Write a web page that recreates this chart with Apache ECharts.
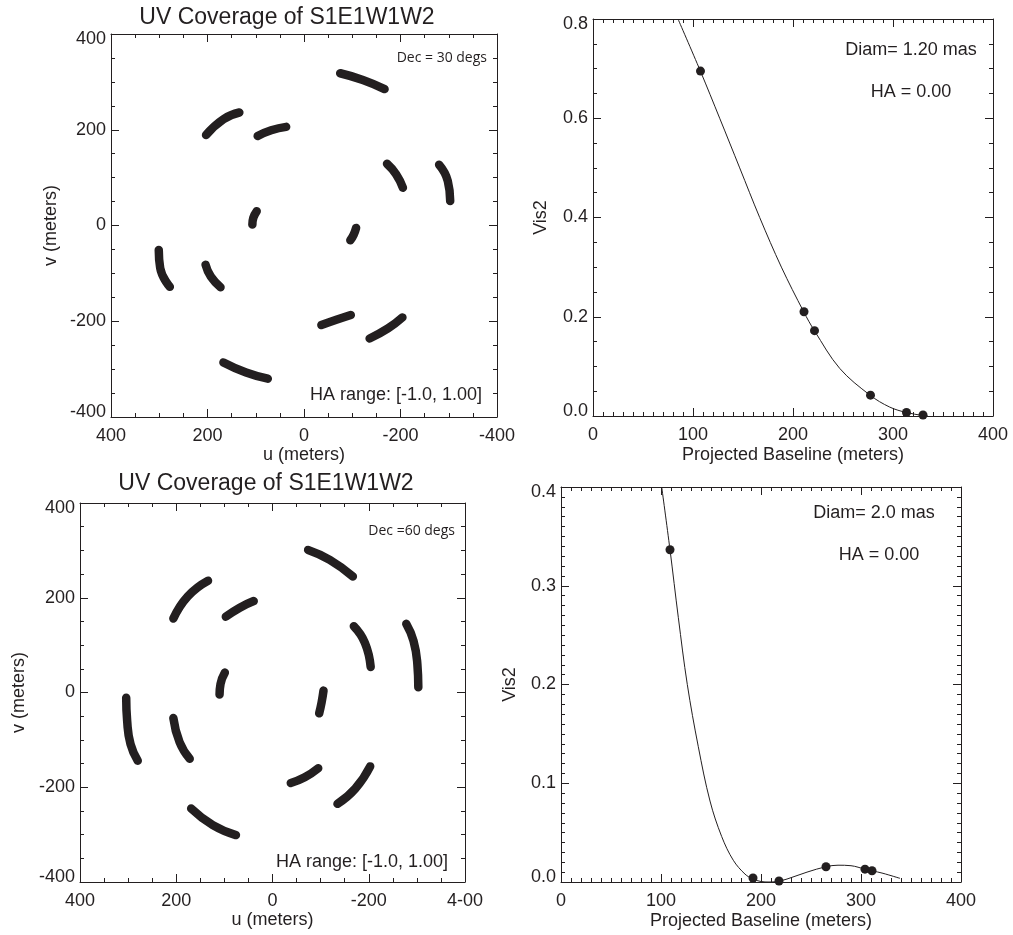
<!DOCTYPE html>
<html>
<head>
<meta charset="utf-8">
<script src="https://cdn.jsdelivr.net/npm/echarts@6/dist/echarts.min.js"></script>
<style>
html,body{margin:0;padding:0;background:#ffffff;}
#chart{width:1013px;height:935px;}
</style>
</head>
<body>
<div id="chart"></div>
<script>
// ---------------- data ----------------
const uvTickValues = [400, 200, 0, -200, -400];
const uvTickLabelsTop = ['400', '200', '0', '-200', '-400'];
const uvTickLabelsBottom = ['400', '200', '0', '-200', '4-00'];

// UV tracks, Dec = 30 degs : each track is a list of [u, v] (meters)
const dec30Tracks = [
  [[-75, 318], [-122, 304], [-167, 285]],
  [[167, -286], [120, -307], [75, -320]],
  [[203, 189], [167, 222], [134, 236]],
  [[-136, -236], [-174, -215], [-204, -192]],
  [[96, 187], [68, 199], [37, 206]],
  [[-36, -208], [-67, -197], [-97, -187]],
  [[-172, 129], [-191, 107], [-205, 79]],
  [[204, -82], [193, -107], [173, -129]],
  [[-280, 127], [-298, 93], [-303, 51]],
  [[301, -51], [298, -89], [278, -128]],
  [[98, 30], [105, 16], [107, 2]],
  [[-108, -5], [-103, -19], [-96, -31]]
];

// UV tracks, Dec = 60 degs
const dec60Tracks = [
  [[-74, 301], [-119, 280], [-167, 245]],
  [[169, -245], [124, -280], [76, -301]],
  [[206, 156], [176, 203], [134, 236]],
  [[-135, -235], [-172, -203], [-203, -156]],
  [[97, 160], [68, 179], [39, 193]],
  [[-38, -191], [-67, -179], [-95, -160]],
  [[-169, 140], [-192, 105], [-204, 54]],
  [[206, -54], [193, -105], [172, -140]],
  [[-278, 145], [-293, 109], [-301, 60], [-303, 11]],
  [[304, -11], [302, -60], [295, -109], [280, -144]],
  [[99, 42], [108, 18], [110, -4]],
  [[-106, 4], [-102, -21], [-97, -44]]
];

// Vis2 vs projected baseline, Diam = 1.20 mas
const vis120CurveB = [85, 107.4, 126.7, 146.7, 166.7, 188.4, 210.7, 221.4, 246.7, 277, 296.7, 313.4, 330, 335];
const vis120CurveV = [0.80, 0.695, 0.600, 0.500, 0.400, 0.300, 0.210, 0.172, 0.096, 0.042, 0.018, 0.007, 0.001, 0.0];
const vis120PointB = [107.5, 211, 221.5, 277.5, 313.5, 330];
const vis120PointV = [0.695, 0.210, 0.172, 0.042, 0.007, 0.002];

// Vis2 vs projected baseline, Diam = 2.0 mas
const vis200CurveB = [100.7, 109, 117.3, 126.3, 137.3, 149, 160.7, 172.3, 184, 192, 200, 208, 216, 226, 246, 265, 277, 290, 304, 311, 322, 339];
const vis200CurveV = [0.400, 0.3365, 0.268, 0.200, 0.137, 0.082, 0.046, 0.022, 0.008, 0.003, 0.0005, 0.0, 0.0005, 0.003, 0.010, 0.0155, 0.017, 0.0165, 0.013, 0.0114, 0.0088, 0.0037];
const vis200PointB = [109, 192, 218, 265, 304, 311];
const vis200PointV = [0.3365, 0.004, 0.001, 0.0155, 0.013, 0.0114];

// ---------------- styling helpers ----------------
const INK = '#231f20';
const FONT = '"Liberation Sans", Arial, Helvetica, sans-serif';

function zip(a, b) { return a.map((x, i) => [x, b[i]]); }

function richStyles() {
  return {
    n: { fontSize: 18, fontFamily: FONT, color: INK },
    t: { fontSize: 18, fontFamily: FONT, color: INK, padding: [11, 0, 0, 0] },
    b: { fontSize: 18, fontFamily: FONT, color: INK, padding: [0, 0, 9, 0] }
  };
}

function axis(o) {
  const a = {
    type: 'value',
    gridIndex: o.grid,
    position: o.position,
    min: o.min, max: o.max, interval: o.interval,
    inverse: !!o.inverse,
    axisLine: { show: true, onZero: false, lineStyle: { color: INK, width: 1 } },
    axisTick: { show: true, inside: true, length: 8, lineStyle: { color: INK, width: 1 } },
    minorTick: { show: true, splitNumber: o.minor, length: 4, lineStyle: { color: INK, width: 1 } },
    splitLine: { show: false },
    minorSplitLine: { show: false },
    axisLabel: { show: false },
    name: '',
    nameMoveOverlap: false
  };
  if (o.formatter) {
    a.axisLabel = {
      show: true, margin: o.margin, formatter: o.formatter,
      fontSize: 18, fontFamily: FONT, color: INK,
      showMinLabel: true, showMaxLabel: true,
      rich: richStyles()
    };
  }
  if (o.name) {
    a.name = o.name;
    a.nameLocation = 'middle';
    a.nameGap = o.nameGap;
    a.nameTextStyle = { fontSize: 18, fontFamily: FONT, color: INK };
  }
  return a;
}

function uvXFormatter(labels) {
  return function (v) {
    const i = uvTickValues.indexOf(v);
    return i >= 0 ? labels[i] : '';
  };
}
function edgeYFormatter(min, max, digits) {
  return function (v) {
    const s = digits ? v.toFixed(digits) : String(Math.round(v));
    if (Math.abs(v - max) < 1e-9) return '{t|' + s + '}';
    if (Math.abs(v - min) < 1e-9) return '{b|' + s + '}';
    return '{n|' + s + '}';
  };
}

// ---------------- axes ----------------
const xAxes = [
  axis({ grid: 0, position: 'bottom', min: -400, max: 400, interval: 200, minor: 4, inverse: true, margin: 10,
         formatter: uvXFormatter(uvTickLabelsTop), name: 'u (meters)', nameGap: 29 }),
  axis({ grid: 0, position: 'top', min: -400, max: 400, interval: 200, minor: 4, inverse: true }),
  axis({ grid: 1, position: 'bottom', min: 0, max: 400, interval: 100, minor: 10, margin: 10,
         formatter: v => String(v), name: 'Projected Baseline (meters)', nameGap: 30 }),
  axis({ grid: 1, position: 'top', min: 0, max: 400, interval: 100, minor: 10 }),
  axis({ grid: 2, position: 'bottom', min: -400, max: 400, interval: 200, minor: 4, inverse: true, margin: 10,
         formatter: uvXFormatter(uvTickLabelsBottom), name: 'u (meters)', nameGap: 29 }),
  axis({ grid: 2, position: 'top', min: -400, max: 400, interval: 200, minor: 4, inverse: true }),
  axis({ grid: 3, position: 'bottom', min: 0, max: 400, interval: 100, minor: 10, margin: 10,
         formatter: v => String(v), name: 'Projected Baseline (meters)', nameGap: 30 }),
  axis({ grid: 3, position: 'top', min: 0, max: 400, interval: 100, minor: 10 })
];
const yAxes = [
  axis({ grid: 0, position: 'left', min: -400, max: 400, interval: 200, minor: 4, margin: 5,
         formatter: edgeYFormatter(-400, 400, 0), name: 'v (meters)', nameGap: 51 }),
  axis({ grid: 0, position: 'right', min: -400, max: 400, interval: 200, minor: 4 }),
  axis({ grid: 1, position: 'left', min: 0, max: 0.8, interval: 0.2, minor: 4, margin: 5,
         formatter: edgeYFormatter(0, 0.8, 1), name: 'Vis2', nameGap: 43 }),
  axis({ grid: 1, position: 'right', min: 0, max: 0.8, interval: 0.2, minor: 4 }),
  axis({ grid: 2, position: 'left', min: -400, max: 400, interval: 200, minor: 4, margin: 5,
         formatter: edgeYFormatter(-400, 400, 0), name: 'v (meters)', nameGap: 52 }),
  axis({ grid: 2, position: 'right', min: -400, max: 400, interval: 200, minor: 4 }),
  axis({ grid: 3, position: 'left', min: 0, max: 0.4, interval: 0.1, minor: 10, margin: 5,
         formatter: edgeYFormatter(0, 0.4, 1), name: 'Vis2', nameGap: 42 }),
  axis({ grid: 3, position: 'right', min: 0, max: 0.4, interval: 0.1, minor: 10 })
];

// ---------------- series ----------------
const series = [];
function addTracks(tracks, g) {
  tracks.forEach(function (t) {
    series.push({
      type: 'line', xAxisIndex: 2 * g, yAxisIndex: 2 * g, data: t,
      smooth: true, symbol: 'none', showSymbol: false, silent: true,
      lineStyle: { color: INK, width: 8.5, cap: 'round', join: 'round', opacity: 1 }
    });
  });
}
addTracks(dec30Tracks, 0);
addTracks(dec60Tracks, 2);

function addVis(cb, cv, pb, pv, g) {
  series.push({
    type: 'line', xAxisIndex: 2 * g, yAxisIndex: 2 * g, data: zip(cb, cv),
    smooth: 0.35, symbol: 'none', showSymbol: false, silent: true, clip: true,
    lineStyle: { color: INK, width: 1, opacity: 1 }
  });
  series.push({
    type: 'scatter', xAxisIndex: 2 * g, yAxisIndex: 2 * g, data: zip(pb, pv),
    symbol: 'circle', symbolSize: 9, silent: true, clip: false,
    itemStyle: { color: INK, opacity: 1 }
  });
}
addVis(vis120CurveB, vis120CurveV, vis120PointB, vis120PointV, 1);
addVis(vis200CurveB, vis200CurveV, vis200PointB, vis200PointV, 3);

// ---------------- text annotations ----------------
function txt(x, y, text, size, align, family) {
  return {
    type: 'text', x: x, y: y, silent: true,
    style: {
      text: text, fill: INK,
      font: size + 'px ' + (family || FONT),
      fontSize: size, fontFamily: family || FONT,
      align: align, textAlign: align,
      verticalAlign: 'middle', textVerticalAlign: 'middle'
    }
  };
}
const DECFONT = '"Open Sans", "Noto Sans", sans-serif';
const graphics = [
  txt(287, 18, 'UV Coverage of S1E1W1W2', 23, 'center'),
  txt(266, 484, 'UV Coverage of S1E1W1W2', 23, 'center'),
  txt(487, 58, 'Dec = 30 degs', 14, 'right', DECFONT),
  txt(455, 531, 'Dec =60 degs', 14, 'right', DECFONT),
  txt(482, 395, 'HA range: [-1.0, 1.00]', 18, 'right'),
  txt(448, 862, 'HA range: [-1.0, 1.00]', 18, 'right'),
  txt(911, 50, 'Diam= 1.20 mas', 18, 'center'),
  txt(911, 92, 'HA = 0.00', 18, 'center'),
  txt(874, 513, 'Diam= 2.0 mas', 18, 'center'),
  txt(879, 555, 'HA = 0.00', 18, 'center')
];

const chart = echarts.init(document.getElementById('chart'), null, { renderer: 'canvas' });
chart.setOption({
  backgroundColor: '#ffffff',
  animation: false,
  textStyle: { fontFamily: FONT, color: INK },
  grid: [
    { left: 111, top: 34, width: 386, height: 383, outerBoundsMode: 'none', containLabel: false },
    { left: 593, top: 19, width: 400, height: 397, outerBoundsMode: 'none', containLabel: false },
    { left: 80, top: 503, width: 385, height: 379, outerBoundsMode: 'none', containLabel: false },
    { left: 561, top: 487, width: 400, height: 395, outerBoundsMode: 'none', containLabel: false }
  ],
  xAxis: xAxes,
  yAxis: yAxes,
  series: series,
  graphic: graphics
});
</script>
</body>
</html>
